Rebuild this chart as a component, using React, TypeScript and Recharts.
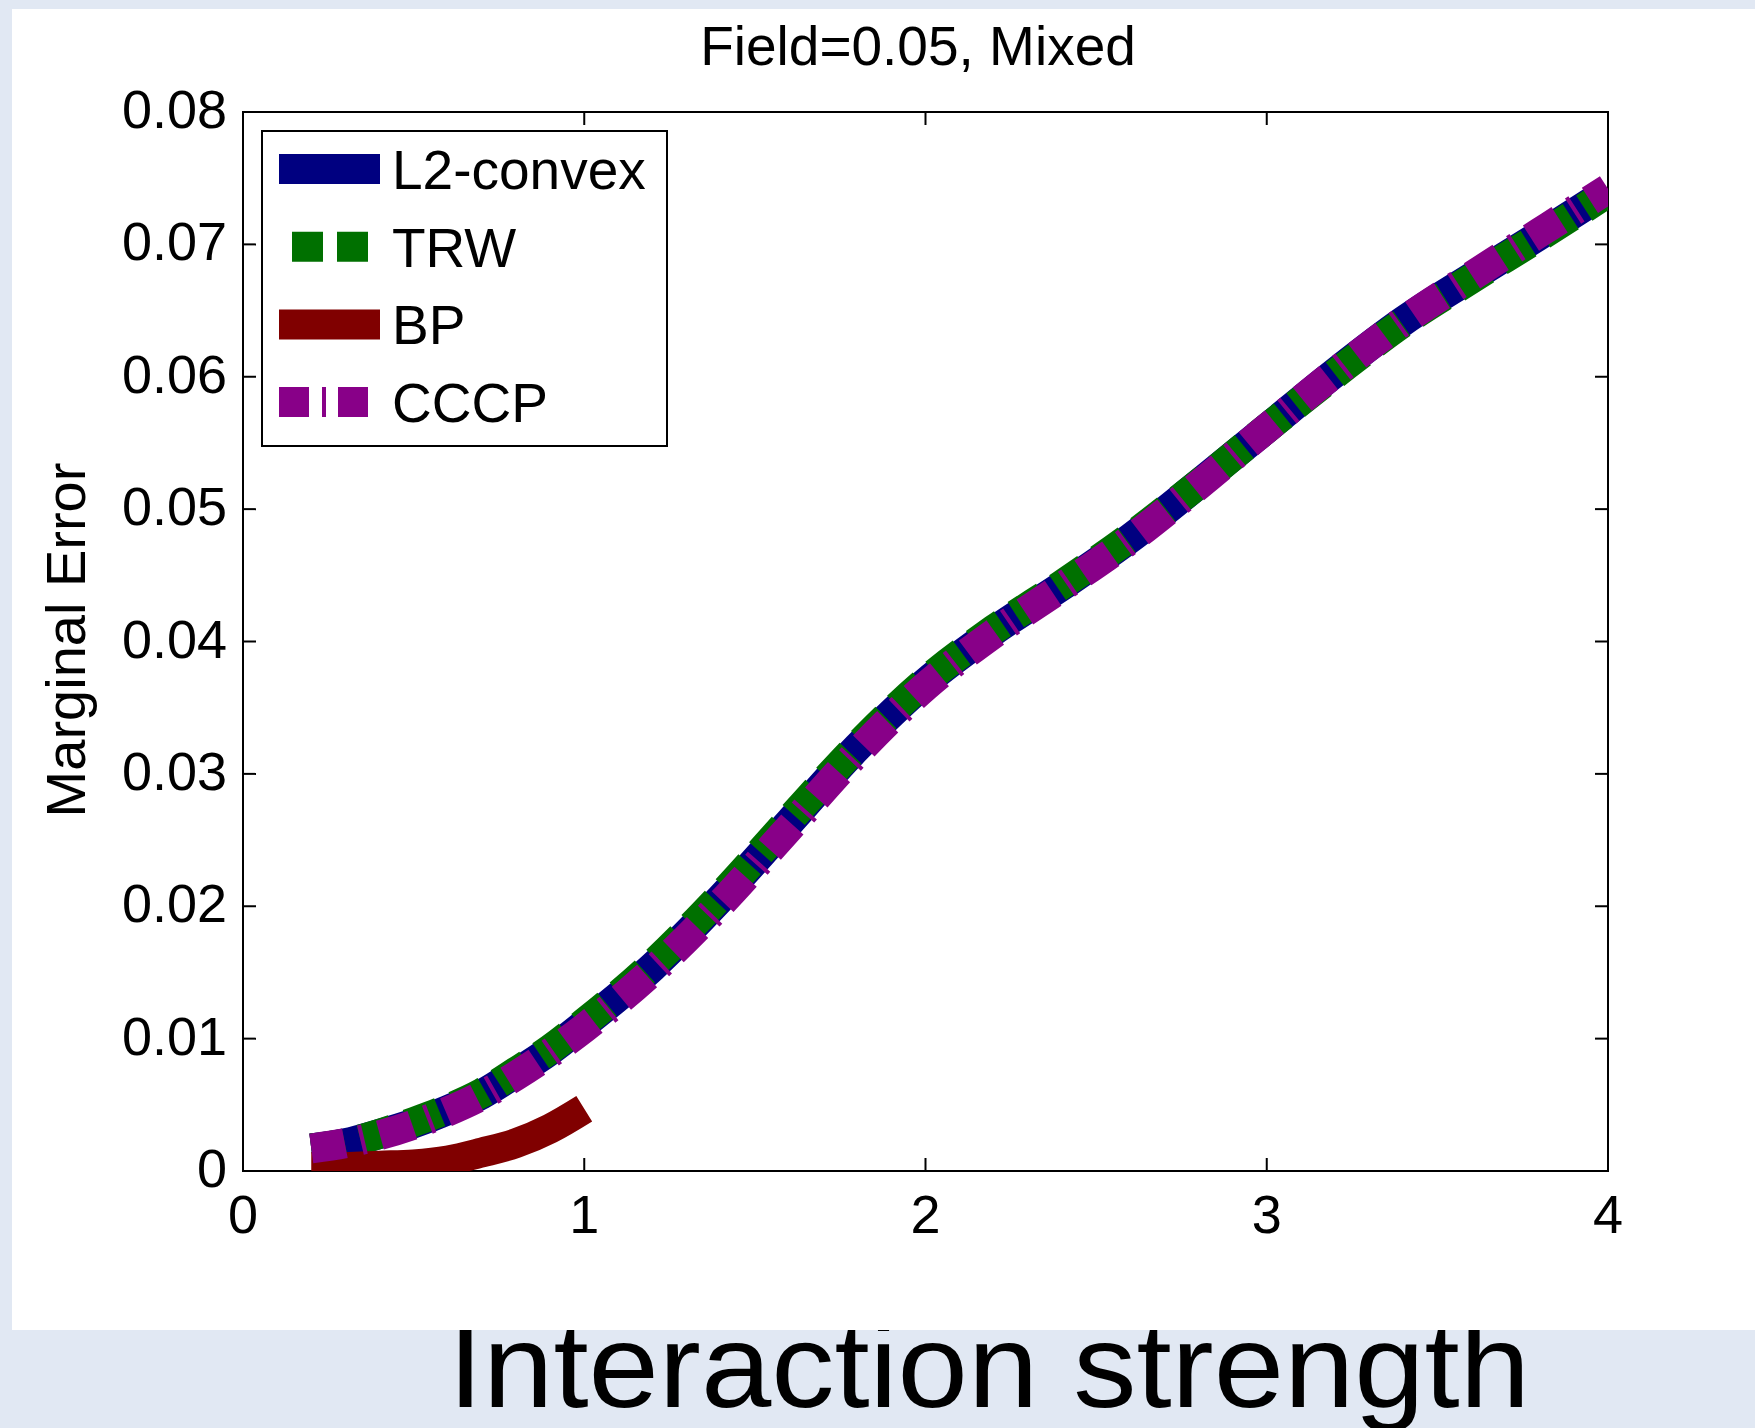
import React from 'react';
import { LineChart, Line, XAxis, YAxis, ReferenceArea, Legend, Customized } from 'recharts';

// ---------- data ----------
const xMain = [0.2, 0.3, 0.4, 0.5, 0.6, 0.7, 0.8, 0.9, 1.0, 1.2, 1.4, 1.6, 1.8, 2.0, 2.2, 2.4, 2.6, 2.8, 3.0, 3.2, 3.4, 3.6, 3.8, 4.0];
const l2Values = [0.0017, 0.0021, 0.0028, 0.0036, 0.0046, 0.0058, 0.0074, 0.0091, 0.0111, 0.0154, 0.0206, 0.0263, 0.0320, 0.0369, 0.0408, 0.0442, 0.0478, 0.0519, 0.0561, 0.0603, 0.0642, 0.0675, 0.0707, 0.0740];
const trwValues = [0.0017, 0.0021, 0.0028, 0.0037, 0.0047, 0.0059, 0.0075, 0.0092, 0.0112, 0.0156, 0.0208, 0.0265, 0.0321, 0.0370, 0.0409, 0.0443, 0.0479, 0.0519, 0.0561, 0.0602, 0.0641, 0.0674, 0.0706, 0.0739];
const cccpValues = [0.0017, 0.0021, 0.0027, 0.0035, 0.0045, 0.0057, 0.0072, 0.0089, 0.0108, 0.0151, 0.0202, 0.0259, 0.0316, 0.0366, 0.0406, 0.0441, 0.0477, 0.0518, 0.0561, 0.0603, 0.0642, 0.0676, 0.0709, 0.0742];
const xBP = [0.2, 0.3, 0.4, 0.5, 0.6, 0.7, 0.8, 0.9, 1.0];
const bpValues = [0.0003, 0.0003, 0.0004, 0.0005, 0.0008, 0.0014, 0.0021, 0.0032, 0.0047];

const xTicks = [0, 1, 2, 3, 4];
const yTicks = [0, 0.01, 0.02, 0.03, 0.04, 0.05, 0.06, 0.07, 0.08];
const seriesNames = ['L2-convex', 'TRW', 'BP', 'CCCP'];

const titleText = 'Field=0.05, Mixed';
const yLabelText = 'Marginal Error';
const xLabelText = 'Interaction strength';

// ---------- styles ----------
const FONT = '"Liberation Sans", Arial, Helvetica, sans-serif';
const STYLE: Record<string, { color: string; dash?: string; legendDash?: string; legendOffset?: number }> = {
  'L2-convex': { color: '#000080' },
  TRW: { color: '#007000', dash: '34 16', legendDash: '31 14', legendOffset: 32 },
  BP: { color: '#800000' },
  CCCP: { color: '#880088', dash: '34 16 4 16', legendDash: '30 13 4 12', legendOffset: 0 },
};

const W = 1755;
const H = 1428;
const PLOT_TOP = 112;
const PLOT_LEFT = 243;
const PLOT_RIGHT = 1608;
const PLOT_BOTTOM = 1171;
const Y_AXIS_W = 100;
const X_AXIS_H = 100;

const toPts = (xs: number[], ys: number[]) => xs.map((x, i) => ({ x, y: ys[i] }));
const l2Data = toPts(xMain, l2Values);
const trwData = toPts(xMain, trwValues);
const cccpData = toPts(xMain, cccpValues);
const bpData = toPts(xBP, bpValues);

const XTick = (props: any) => {
  const { x, y, payload } = props;
  return (
    <g>
      <line x1={x} x2={x} y1={y} y2={y - 13} stroke="#000" strokeWidth={2} />
      <line x1={x} x2={x} y1={PLOT_TOP} y2={PLOT_TOP + 13} stroke="#000" strokeWidth={2} />
      <text x={x} y={y + 62} textAnchor="middle" fontSize={54} fontFamily={FONT} fill="#000">
        {String(payload.value)}
      </text>
    </g>
  );
};

const YTick = (props: any) => {
  const { x, y, payload } = props;
  const v = payload.value as number;
  const label = v === 0 ? '0' : v.toFixed(2);
  return (
    <g>
      <line x1={x} x2={x + 13} y1={y} y2={y} stroke="#000" strokeWidth={2} />
      <line x1={PLOT_RIGHT} x2={PLOT_RIGHT - 13} y1={y} y2={y} stroke="#000" strokeWidth={2} />
      <text x={x - 16} y={y + 16} textAnchor="end" fontSize={54} fontFamily={FONT} fill="#000">
        {label}
      </text>
    </g>
  );
};

const LegendBox = (props: any) => {
  const payload: any[] = props.payload || [];
  const ordered = seriesNames
    .map((n) => payload.find((p) => p.value === n))
    .filter(Boolean);
  return (
    <svg width={407} height={317} style={{ display: 'block' }}>
      <rect x={1} y={1} width={405} height={315} fill="#fff" stroke="#000" strokeWidth={2} />
      {ordered.map((p: any, i: number) => {
        const st = STYLE[p.value];
        const cy = 39 + i * 77.7;
        return (
          <g key={p.value}>
            <line
              x1={18}
              x2={119}
              y1={cy}
              y2={cy}
              stroke={st.color}
              strokeWidth={30}
              strokeDasharray={st.legendDash}
              strokeDashoffset={st.legendOffset || 0}
            />
            <text x={131} y={cy + 20} fontSize={55} fontFamily={FONT} fill="#000">
              {p.value}
            </text>
          </g>
        );
      })}
    </svg>
  );
};

const Texts = () => (
  <g>
    <defs>
      <clipPath id="belowWhite">
        <rect x={0} y={1330} width={W} height={H - 1330} />
      </clipPath>
    </defs>
    <text x={918} y={65} textAnchor="middle" fontSize={55} fontFamily={FONT} fill="#000">
      {titleText}
    </text>
    <text transform="translate(85,640) rotate(-90)" textAnchor="middle" fontSize={56} fontFamily={FONT} fill="#000">
      {yLabelText}
    </text>
    <text
      x={448}
      y={1407}
      fontSize={118}
      fontFamily={FONT}
      fill="#000"
      textLength={1082}
      lengthAdjust="spacingAndGlyphs"
      clipPath="url(#belowWhite)"
    >
      {xLabelText}
    </text>
  </g>
);

export default function App() {
  return (
    <div style={{ position: 'absolute', left: 0, top: 0, width: W, height: H, background: '#e1e8f3', overflow: 'hidden' }}>
      <div style={{ position: 'absolute', left: 12, top: 9, width: W - 12, height: 1321, background: '#fff' }} />
      <div style={{ position: 'absolute', left: 0, top: 0 }}>
        <LineChart
          width={W}
          height={H}
          margin={{ top: PLOT_TOP, right: W - PLOT_RIGHT, bottom: H - PLOT_BOTTOM - X_AXIS_H, left: PLOT_LEFT - Y_AXIS_W }}
        >
          <XAxis
            dataKey="x"
            type="number"
            domain={[0, 4]}
            ticks={xTicks}
            allowDataOverflow
            axisLine={false}
            tickLine={false}
            tickSize={0}
            tickMargin={0}
            height={X_AXIS_H}
            tick={<XTick />}
            interval={0}
          />
          <YAxis
            type="number"
            domain={[0, 0.08]}
            ticks={yTicks}
            allowDataOverflow
            axisLine={false}
            tickLine={false}
            tickSize={0}
            tickMargin={0}
            width={Y_AXIS_W}
            tick={<YTick />}
            interval={0}
          />
          <Legend layout="horizontal" verticalAlign="middle" align="center" wrapperStyle={{ left: 261, top: 130, width: 407, height: 317 }} content={<LegendBox />} />
          <Line data={l2Data} dataKey="y" name="L2-convex" type="monotone" stroke={STYLE['L2-convex'].color} strokeWidth={30} strokeLinejoin="round" dot={false} activeDot={false} isAnimationActive={false} />
          <Line data={trwData} dataKey="y" name="TRW" type="monotone" stroke={STYLE.TRW.color} strokeWidth={30} strokeLinejoin="round" strokeDasharray={STYLE.TRW.dash} dot={false} activeDot={false} isAnimationActive={false} />
          <Line data={bpData} dataKey="y" name="BP" type="monotone" stroke={STYLE.BP.color} strokeWidth={30} strokeLinejoin="round" dot={false} activeDot={false} isAnimationActive={false} />
          <Line data={cccpData} dataKey="y" name="CCCP" type="monotone" stroke={STYLE.CCCP.color} strokeWidth={30} strokeLinejoin="round" strokeDasharray={STYLE.CCCP.dash} dot={false} activeDot={false} isAnimationActive={false} />
          <ReferenceArea x1={0} x2={4} y1={0} y2={0.08} fill="none" stroke="#000" strokeWidth={2} ifOverflow="visible" />
          <Customized component={<Texts />} />
        </LineChart>
      </div>
    </div>
  );
}
